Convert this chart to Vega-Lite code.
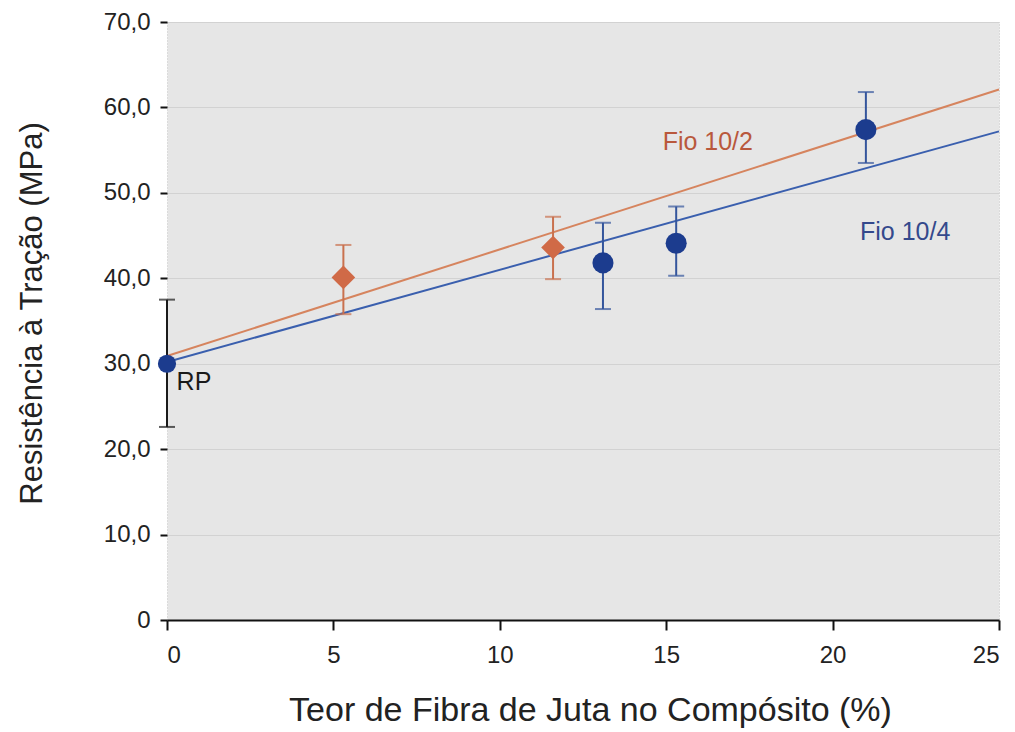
{
  "$schema": "https://vega.github.io/schema/vega-lite/v6.json",
  "width": 832,
  "height": 598,
  "autosize": {"type": "none"},
  "padding": {"left": 167, "top": 22, "right": 16, "bottom": 112},
  "background": "white",
  "view": {"fill": "#e6e6e6", "stroke": "#c4c4c4", "strokeDash": [1, 2]},
  "config": {
    "font": "Liberation Sans",
    "axis": {"labelColor": "#222", "titleColor": "#222", "titleFontWeight": "normal", "labelFont": "Liberation Sans", "titleFont": "Liberation Sans"}
  },
  "datasets": {
    "pontos": [
      {"serie": "RP", "teor": 0, "res": 30.0, "lo": 22.6, "hi": 37.5},
      {"serie": "Fio 10/2", "teor": 5.3, "res": 40.1, "lo": 35.8, "hi": 43.9},
      {"serie": "Fio 10/2", "teor": 11.6, "res": 43.6, "lo": 39.9, "hi": 47.2},
      {"serie": "Fio 10/4", "teor": 13.1, "res": 41.8, "lo": 36.4, "hi": 46.5},
      {"serie": "Fio 10/4", "teor": 15.3, "res": 44.1, "lo": 40.3, "hi": 48.4},
      {"serie": "Fio 10/4", "teor": 21.0, "res": 57.4, "lo": 53.5, "hi": 61.8}
    ],
    "linhas": [
      {"serie": "Fio 10/2", "teor": 0, "res": 30.9},
      {"serie": "Fio 10/2", "teor": 25, "res": 62.1},
      {"serie": "Fio 10/4", "teor": 0, "res": 30.2},
      {"serie": "Fio 10/4", "teor": 25, "res": 57.2}
    ],
    "rotulos": [
      {"serie": "Fio 10/2", "texto": "Fio 10/2", "teor": 16.25, "res": 55.9},
      {"serie": "Fio 10/4", "texto": "Fio 10/4", "teor": 22.18, "res": 45.4},
      {"serie": "RP", "texto": "RP", "teor": 0.81, "res": 27.9}
    ]
  },
  "encoding": {
    "x": {
      "field": "teor", "type": "quantitative",
      "scale": {"domain": [0, 25], "nice": false, "zero": false},
      "axis": {
        "title": "Teor de Fibra de Juta no Compósito (%)",
        "values": [0, 5, 10, 15, 20, 25],
        "grid": false,
        "domainColor": "#111", "domainWidth": 2,
        "tickColor": "#111", "tickWidth": 2, "tickSize": 10,
        "labelFontSize": 24, "labelPadding": 13,
        "titleFontSize": 34, "titleX": 423, "titleY": 90, "titleBaseline": "middle", "titleAlign": "center"
      }
    },
    "y": {
      "field": "res", "type": "quantitative",
      "scale": {"domain": [0, 70], "nice": false},
      "axis": {
        "title": "Resistência à Tração (MPa)",
        "values": [0, 10, 20, 30, 40, 50, 60, 70],
        "labelExpr": "datum.value == 0 ? '0' : replace(format(datum.value, '.1f'), '.', ',')",
        "domain": false,
        "grid": true, "gridColor": "#d2d2d2", "gridWidth": 1,
        "tickColor": "#111", "tickWidth": 2, "tickSize": 7,
        "labelFontSize": 24, "labelPadding": 10,
        "titleFontSize": 31, "titleX": -135, "titleY": 291, "titleBaseline": "middle", "titleAlign": "center", "titleAngle": -90
      }
    }
  },
  "layer": [
    {
      "data": {"name": "linhas"},
      "mark": {"type": "line", "strokeWidth": 2},
      "encoding": {
        "color": {"field": "serie", "type": "nominal", "legend": null,
          "scale": {"domain": ["Fio 10/2", "Fio 10/4"], "range": ["#d6845e", "#3a5fae"]}}
      }
    },
    {
      "data": {"name": "pontos"},
      "mark": {"type": "rule", "strokeWidth": 2},
      "encoding": {
        "y": {"field": "lo", "type": "quantitative"},
        "y2": {"field": "hi"},
        "color": {"field": "serie", "type": "nominal", "legend": null,
          "scale": {"domain": ["Fio 10/2", "Fio 10/4", "RP"], "range": ["#c9714e", "#34559c", "#1a1a1a"]}}
      }
    },
    {
      "data": {"name": "pontos"},
      "mark": {"type": "tick", "orient": "horizontal", "size": 16, "thickness": 2},
      "encoding": {
        "y": {"field": "hi", "type": "quantitative"},
        "color": {"field": "serie", "type": "nominal", "legend": null,
          "scale": {"domain": ["Fio 10/2", "Fio 10/4", "RP"], "range": ["#c9714e", "#34559c", "#1a1a1a"]}}
      }
    },
    {
      "data": {"name": "pontos"},
      "mark": {"type": "tick", "orient": "horizontal", "size": 16, "thickness": 2},
      "encoding": {
        "y": {"field": "lo", "type": "quantitative"},
        "color": {"field": "serie", "type": "nominal", "legend": null,
          "scale": {"domain": ["Fio 10/2", "Fio 10/4", "RP"], "range": ["#c9714e", "#34559c", "#1a1a1a"]}}
      }
    },
    {
      "data": {"name": "pontos"},
      "mark": {"type": "point", "filled": true, "opacity": 1},
      "encoding": {
        "shape": {"field": "serie", "type": "nominal", "legend": null,
          "scale": {"domain": ["Fio 10/2", "Fio 10/4", "RP"], "range": ["diamond", "circle", "circle"]}},
        "size": {"field": "serie", "type": "nominal", "legend": null,
          "scale": {"domain": ["Fio 10/2", "Fio 10/4", "RP"], "range": [560, 330, 330]}},
        "fill": {"field": "serie", "type": "nominal", "legend": null,
          "scale": {"domain": ["Fio 10/2", "Fio 10/4", "RP"], "range": ["#d06a47", "#1c3c8e", "#1c3c8e"]}}
      }
    },
    {
      "data": {"name": "rotulos"},
      "mark": {"type": "text", "fontSize": 25, "align": "center", "baseline": "middle"},
      "encoding": {
        "text": {"field": "texto"},
        "x": {"field": "teor", "type": "quantitative"},
        "color": {"field": "serie", "type": "nominal", "legend": null,
          "scale": {"domain": ["Fio 10/2", "Fio 10/4", "RP"], "range": ["#b9583c", "#34498c", "#1a1a1a"]}}
      }
    }
  ],
  "resolve": {"scale": {"color": "independent", "fill": "independent", "shape": "independent", "size": "independent"}}
}
